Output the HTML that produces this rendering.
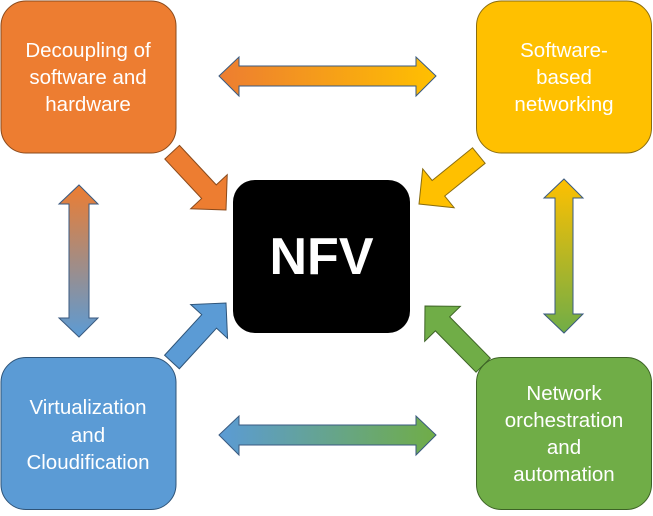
<!DOCTYPE html>
<html><head><style>
body{margin:0;background:#fff;width:653px;height:511px;overflow:hidden}
</style></head><body>
<svg width="653" height="511" xmlns="http://www.w3.org/2000/svg" font-family="Liberation Sans, sans-serif">
<defs>
<linearGradient id="gt" x1="0" x2="1" y1="0" y2="0"><stop offset="0" stop-color="#ED7D31"/><stop offset="1" stop-color="#FFC000"/></linearGradient>
<linearGradient id="gb" x1="0" x2="1" y1="0" y2="0"><stop offset="0" stop-color="#5B9BD5"/><stop offset="1" stop-color="#70AD47"/></linearGradient>
<linearGradient id="gl" x1="0" x2="0" y1="0" y2="1"><stop offset="0" stop-color="#ED7D31"/><stop offset="1" stop-color="#5B9BD5"/></linearGradient>
<linearGradient id="gr" x1="0" x2="0" y1="0" y2="1"><stop offset="0" stop-color="#FFC000"/><stop offset="1" stop-color="#70AD47"/></linearGradient>
</defs>
<rect x="1" y="1" width="175" height="152" rx="25" fill="#ED7D31" stroke="#8a4a1c" stroke-width="1"/>
<rect x="476.5" y="1" width="175" height="152" rx="25" fill="#FFC000" stroke="#8a6d10" stroke-width="1"/>
<rect x="1" y="357.5" width="175" height="152" rx="25" fill="#5B9BD5" stroke="#2f5478" stroke-width="1"/>
<rect x="476.5" y="357.5" width="175" height="152" rx="25" fill="#70AD47" stroke="#3d6326" stroke-width="1"/>
<rect x="233" y="180" width="177" height="153" rx="22" fill="#000"/>
<text x="321.5" y="274" text-anchor="middle" fill="#fff" font-size="52" font-weight="bold">NFV</text>
<g fill="#fff" font-size="20.5" text-anchor="middle">
<text x="88" y="57">Decoupling of</text><text x="88" y="84">software and</text><text x="88" y="111">hardware</text>
<text x="564" y="57">Software-</text><text x="564" y="84">based</text><text x="564" y="111">networking</text>
<text x="88" y="414">Virtualization</text><text x="88" y="442">and</text><text x="88" y="469">Cloudification</text>
<text x="564" y="400">Network</text><text x="564" y="427">orchestration</text><text x="564" y="454">and</text><text x="564" y="481">automation</text>
</g>
<polygon points="219,76 239,57 239,66 416,66 416,57 436,76 416,96 416,86 239,86 239,96" fill="url(#gt)" stroke="#3a5a80" stroke-width="1"/>
<polygon points="219,435 239,416 239,425 416,425 416,416 436,435 416,455 416,445 239,445 239,455" fill="url(#gb)" stroke="#3a5a80" stroke-width="1"/>
<polygon points="79,185 98,204 89,204 89,318 98,318 79,337 59,318 69,318 69,204 59,204" fill="url(#gl)" stroke="#3a5a80" stroke-width="1"/>
<polygon points="564,179 583,198 573,198 573,314 583,314 564,333 544,314 555,314 555,198 544,198" fill="url(#gr)" stroke="#3a5a80" stroke-width="1"/>
<polygon transform="translate(226,210) rotate(47)" points="-79,-10 -25,-10 -25,-25 0,0 -25,25 -25,10 -79,10" fill="#ED7D31" stroke="#8a4a1c" stroke-width="1"/>
<polygon transform="translate(419,204) rotate(141)" points="-77,-10 -25,-10 -25,-25 0,0 -25,25 -25,10 -77,10" fill="#FFC000" stroke="#8a6d10" stroke-width="1"/>
<polygon transform="translate(226,303) rotate(-47.5)" points="-80,-10 -25,-10 -25,-25 0,0 -25,25 -25,10 -80,10" fill="#5B9BD5" stroke="#2f5478" stroke-width="1"/>
<polygon transform="translate(425,306) rotate(-134.5)" points="-83,-10 -25,-10 -25,-25 0,0 -25,25 -25,10 -83,10" fill="#70AD47" stroke="#3d6326" stroke-width="1"/>
</svg>
</body></html>
